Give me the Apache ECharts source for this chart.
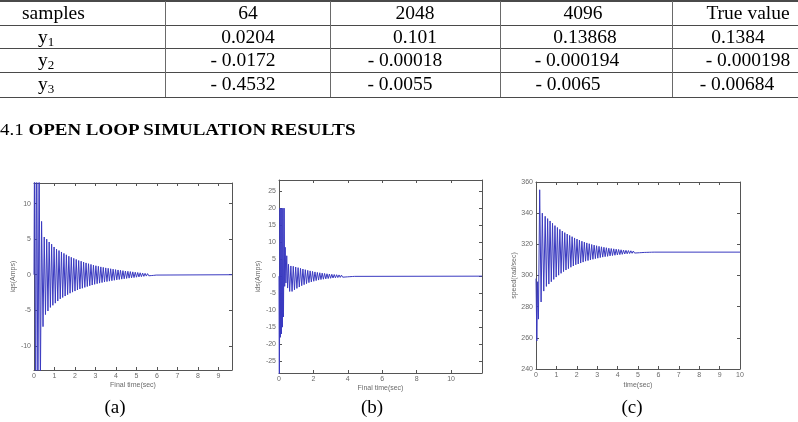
<!DOCTYPE html>
<html>
<head>
<meta charset="utf-8">
<script src="https://cdn.jsdelivr.net/npm/echarts@6/dist/echarts.min.js"></script>
<style>
  html, body { margin: 0; padding: 0; background: #fff; overflow: hidden; }
  #chart { position: absolute; left: 0; top: 0; width: 798px; height: 422px; }
  #overlay { position: absolute; left: 0; top: 0; width: 798px; height: 160px; pointer-events: none; font-family: "Liberation Serif", serif; color: #000; }
  .hl { position: absolute; left: 0; width: 798px; height: 1px; background: #4a4a4a; }
  .vl { position: absolute; top: 1px; width: 1px; height: 96px; background: #6a6a6a; }
  .cell { position: absolute; font-size: 19.5px; line-height: 20px; white-space: nowrap; transform: translateX(-50%); }
  .cell sub { font-size: 13px; vertical-align: -3px; line-height: 0; }
  #heading { position: absolute; left: 0px; top: 120px; font-size: 17px; line-height: 20px; white-space: nowrap; transform: scaleX(1.115); transform-origin: left center; }
</style>
</head>
<body>
<div id="chart"></div>
<div id="overlay"></div>
<script>
// ---------- table data ----------
const tableHeader = ['samples', '64', '2048', '4096', 'True value'];
const rowNames = ['1', '2', '3'];               // y1, y2, y3 subscripts
const rowY1 = ['0.0204', '0.101', '0.13868', '0.1384'];
const rowY2 = ['- 0.0172', '- 0.00018', '- 0.000194', '- 0.000198'];
const rowY3 = ['- 0.4532', '- 0.0055', '- 0.0065', '- 0.00684'];
const headingNum = '4.1 ';
const headingText = 'OPEN LOOP SIMULATION RESULTS';
const panelLabels = ['(a)', '(b)', '(c)'];

// ---------- plot data (time, value) ----------
const iqsData = [[0,0],[0.03,22],[0.08,-25],[0.13,24],[0.19,-20],[0.25,18],[0.31,-16],[0.37,7.5],
[0.44,-7.3],[0.50,5.3],[0.56,-5.6],[0.62,5.0],[0.68,-5.1],[0.74,4.6],[0.80,-4.6],[0.86,4.3],[0.92,-4.3],
[0.98,3.9],[1.04,-4.0],[1.10,3.6],[1.16,-3.7],[1.22,3.4],[1.28,-3.4],[1.34,3.2],[1.40,-3.2],[1.46,3.0],
[1.52,-3.0],[1.58,2.8],[1.64,-2.8],[1.70,2.6],[1.76,-2.6],[1.82,2.45],[1.88,-2.45],[1.94,2.3],[2.00,-2.3],
[2.06,2.15],[2.12,-2.15],[2.18,2.0],[2.24,-2.0],[2.30,1.9],[2.36,-1.9],[2.42,1.78],[2.48,-1.78],[2.54,1.66],
[2.60,-1.66],[2.66,1.55],[2.72,-1.55],[2.78,1.45],[2.84,-1.45],[2.90,1.35],[2.96,-1.35],[3.02,1.26],
[3.08,-1.26],[3.14,1.18],[3.20,-1.18],[3.26,1.1],[3.32,-1.1],[3.38,1.03],[3.44,-1.03],[3.50,0.96],
[3.56,-0.96],[3.62,0.9],[3.68,-0.9],[3.74,0.84],[3.80,-0.84],[3.86,0.78],[3.92,-0.78],[3.98,0.72],
[4.04,-0.72],[4.10,0.67],[4.16,-0.67],[4.22,0.62],[4.28,-0.62],[4.34,0.57],[4.40,-0.57],[4.46,0.52],
[4.52,-0.52],[4.58,0.48],[4.64,-0.48],[4.70,0.44],[4.76,-0.44],[4.82,0.4],[4.88,-0.4],[4.94,0.35],
[5.00,-0.35],[5.06,0.31],[5.12,-0.31],[5.18,0.27],[5.24,-0.27],[5.30,0.23],[5.36,-0.23],[5.42,0.19],
[5.48,-0.19],[5.54,0.15],[5.60,-0.15],[5.66,0.12],[5.72,-0.12],[5.78,0.09],[5.84,-0.09],[5.90,0.05],
[5.96,-0.05],[6.02,0],[9.66,0]];

const idsData = [[0,0],[0.02,-40],[0.05,20],[0.08,-18],[0.11,20],[0.14,-17],[0.17,20],[0.20,-15],[0.23,20],
[0.26,-12],[0.30,20],[0.33,-3],[0.36,8.5],[0.40,-2],[0.45,6],[0.50,-3.5],[0.55,3.5],[0.62,-4.5],[0.69,3.0],
[0.76,-4.5],[0.83,2.9],[0.90,-4.0],[0.97,2.7],[1.04,-3.6],[1.11,2.5],[1.18,-3.2],[1.25,2.3],[1.32,-2.8],
[1.39,2.1],[1.46,-2.5],[1.53,1.9],[1.60,-2.2],[1.67,1.7],[1.74,-1.9],[1.81,1.55],[1.88,-1.7],[1.95,1.4],
[2.02,-1.5],[2.09,1.25],[2.16,-1.3],[2.23,1.1],[2.30,-1.15],[2.37,1.0],[2.44,-1.0],[2.51,0.9],[2.58,-0.9],
[2.65,0.8],[2.72,-0.8],[2.79,0.7],[2.86,-0.7],[2.93,0.62],[3.00,-0.62],[3.07,0.55],[3.14,-0.55],[3.21,0.48],
[3.28,-0.48],[3.35,0.42],[3.42,-0.42],[3.49,0.36],[3.56,-0.36],[3.63,0.3],[3.70,-0.3],[3.77,0.25],
[3.84,-0.25],[3.91,0.2],[3.98,-0.2],[4.05,0.15],[4.12,-0.15],[4.19,0.1],[4.26,-0.1],[4.33,0.06],
[4.40,-0.06],[4.47,0],[11.8,0]];

const speedData = [[0,298],[0.04,258],[0.08,296],[0.12,272],[0.18,355],[0.25,283],[0.31,340],[0.38,290],
[0.45,338],[0.51,293],[0.57,336.5],[0.63,294.5],[0.69,335],[0.75,296],[0.81,333.5],[0.87,297.5],[0.93,332],
[0.99,299],[1.05,330.8],[1.11,300.2],[1.17,329.6],[1.23,301.4],[1.29,328.5],[1.35,302.5],[1.41,327.5],
[1.47,303.5],[1.53,326.6],[1.59,304.4],[1.65,325.7],[1.71,305.3],[1.77,324.9],[1.83,306.1],[1.89,324.1],
[1.95,306.9],[2.01,323.4],[2.07,307.4],[2.13,322.7],[2.19,308],[2.25,322],[2.31,308.6],[2.37,321.4],
[2.43,309.2],[2.49,320.9],[2.55,309.6],[2.61,320.4],[2.67,310],[2.73,319.9],[2.79,310.4],[2.85,319.5],
[2.91,310.8],[2.97,319.1],[3.03,311.1],[3.09,318.7],[3.15,311.5],[3.21,318.4],[3.27,311.8],[3.33,318.1],
[3.39,312.1],[3.45,317.8],[3.51,312.3],[3.57,317.5],[3.63,312.6],[3.69,317.3],[3.75,312.8],[3.81,317.1],
[3.87,313],[3.93,316.9],[3.99,313.2],[4.05,316.7],[4.11,313.4],[4.17,316.5],[4.23,313.6],[4.29,316.3],
[4.35,313.8],[4.41,316.15],[4.47,313.95],[4.53,316],[4.59,314.1],[4.65,315.85],[4.71,314.25],[4.77,315.7],
[4.83,314.4],[4.89,315.55],[4.95,314.5],[5.01,315.45],[5.07,314.6],[5.13,315.35],[5.19,314.7],[5.25,315.25],
[5.31,314.8],[5.37,315.18],[5.43,314.85],[5.49,315.12],[5.55,314.9],[5.61,315.08],[5.67,314.95],
[5.73,315.04],[5.79,315],[10,315]];

// tick values
const xTicksA = [0,1,2,3,4,5,6,7,8,9];
const yTicksA = [-10,-5,0,5,10];
const xTicksB = [0,2,4,6,8,10];
const yTicksB = [-25,-20,-15,-10,-5,0,5,10,15,20,25];
const xTicksC = [0,1,2,3,4,5,6,7,8,9,10];
const yTicksC = [240,260,280,300,320,340,360];

// axis names
const xNames = ['Final time(sec)', 'Final time(sec)', 'time(sec)'];
const yNames = ['iqs(Amps)', 'ids(Amps)', 'speed(rad/sec)'];

// ---------- build table overlay ----------
(function buildTable() {
  const ov = document.getElementById('overlay');
  const hLines = [1, 25, 48, 72, 97];
  hLines.forEach((y, i) => {
    const d = document.createElement('div');
    d.className = 'hl';
    d.style.top = y + 'px';
    if (i === 0) { d.style.height = '2px'; d.style.top = '0px'; }
    ov.appendChild(d);
  });
  const vLines = [165, 330, 500, 672];
  vLines.forEach(x => {
    const d = document.createElement('div');
    d.className = 'vl';
    d.style.left = x + 'px';
    ov.appendChild(d);
  });
  function cell(html, cx, cy, left) {
    const d = document.createElement('div');
    d.className = 'cell';
    d.innerHTML = html;
    d.style.top = (cy - 10) + 'px';
    d.style.left = cx + 'px';
    if (left) d.style.transform = 'none';
    ov.appendChild(d);
  }
  const rowCY = [13, 37, 60, 84];
  const hdrX = [22, 248, 415, 583, 748];
  tableHeader.forEach((t, i) => cell(t, hdrX[i], rowCY[0], i === 0));
  const valX = [
    [248, 415, 585, 738],
    [243, 405, 577, 748],
    [243, 400, 568, 737]
  ];
  const rows = [rowY1, rowY2, rowY3];
  rows.forEach((r, ri) => {
    cell('y<sub>' + rowNames[ri] + '</sub>', 46, rowCY[ri + 1], false);
    r.forEach((v, ci) => cell(v, valX[ri][ci], rowCY[ri + 1], false));
  });
  const h = document.createElement('div');
  h.id = 'heading';
  h.innerHTML = headingNum + '<b>' + headingText + '</b>';
  ov.appendChild(h);
})();

// ---------- chart ----------
const chart = echarts.init(document.getElementById('chart'), null, { renderer: 'canvas' });
const axisColor = '#555';
const labelColor = '#6a6a6a';
const tickFont = 7;
const lineColor = '#3a3ac0';

const panels = [
  { grid: { left: 34, top: 183, width: 198, height: 187 }, xMin: 0, xMax: 9.66, yMin: -13.4, yMax: 12.9,
    xTicks: xTicksA, yTicks: yTicksA, data: iqsData, xGap: 11.5, yGap: 13 },
  { grid: { left: 279, top: 180, width: 203, height: 193 }, xMin: 0, xMax: 11.8, yMin: -28.5, yMax: 28.3,
    xTicks: xTicksB, yTicks: yTicksB, data: idsData, xGap: 12, yGap: 12.5 },
  { grid: { left: 536, top: 182, width: 204, height: 187 }, xMin: 0, xMax: 10, yMin: 240, yMax: 360,
    xTicks: xTicksC, yTicks: yTicksC, data: speedData, xGap: 12.5, yGap: 14.5 }
];

const grids = [], xAxes = [], yAxes = [], series = [];
panels.forEach((p, i) => {
  grids.push(Object.assign({ containLabel: false, show: false }, p.grid));
  const common = (min, max, ticks) => ({
    type: 'value', min: min, max: max, gridIndex: i,
    axisLine: { show: true, onZero: false, lineStyle: { color: axisColor, width: 1 } },
    axisTick: { show: true, inside: true, length: 3, customValues: ticks, lineStyle: { color: axisColor } },
    splitLine: { show: false }
  });
  xAxes.push(Object.assign(common(p.xMin, p.xMax, p.xTicks), {
    position: 'bottom',
    axisLabel: { show: true, customValues: p.xTicks, fontSize: tickFont, color: labelColor, margin: 3, fontFamily: 'Liberation Sans' },
    name: xNames[i], nameLocation: 'middle', nameGap: p.xGap,
    nameTextStyle: { fontSize: tickFont, color: labelColor, fontFamily: 'Liberation Sans' }
  }));
  xAxes.push(Object.assign(common(p.xMin, p.xMax, p.xTicks), {
    position: 'top', axisLabel: { show: false }
  }));
  yAxes.push(Object.assign(common(p.yMin, p.yMax, p.yTicks), {
    position: 'left',
    axisLabel: { show: true, customValues: p.yTicks, fontSize: tickFont, color: labelColor, margin: 3, fontFamily: 'Liberation Sans' },
    name: yNames[i], nameLocation: 'middle', nameGap: p.yGap, nameRotate: 90,
    nameTextStyle: { fontSize: tickFont, color: labelColor, fontFamily: 'Liberation Sans' }
  }));
  yAxes.push(Object.assign(common(p.yMin, p.yMax, p.yTicks), {
    position: 'right', axisLabel: { show: false }
  }));
  series.push({
    type: 'line', xAxisIndex: 2 * i, yAxisIndex: 2 * i, data: p.data,
    symbol: 'none', showSymbol: false, clip: true, animation: false,
    lineStyle: { color: lineColor, width: 1 }
  });
});

const labelPos = [[115, 408], [372, 408], [632, 408]];
const graphics = panelLabels.map((t, i) => ({
  type: 'text', x: labelPos[i][0], y: labelPos[i][1],
  style: { text: t, font: '19px "Liberation Serif"', fill: '#000', align: 'center', verticalAlign: 'middle' }
}));

chart.setOption({
  backgroundColor: '#fff',
  animation: false,
  grid: grids,
  xAxis: xAxes,
  yAxis: yAxes,
  series: series,
  graphic: graphics
});
</script>
</body>
</html>
